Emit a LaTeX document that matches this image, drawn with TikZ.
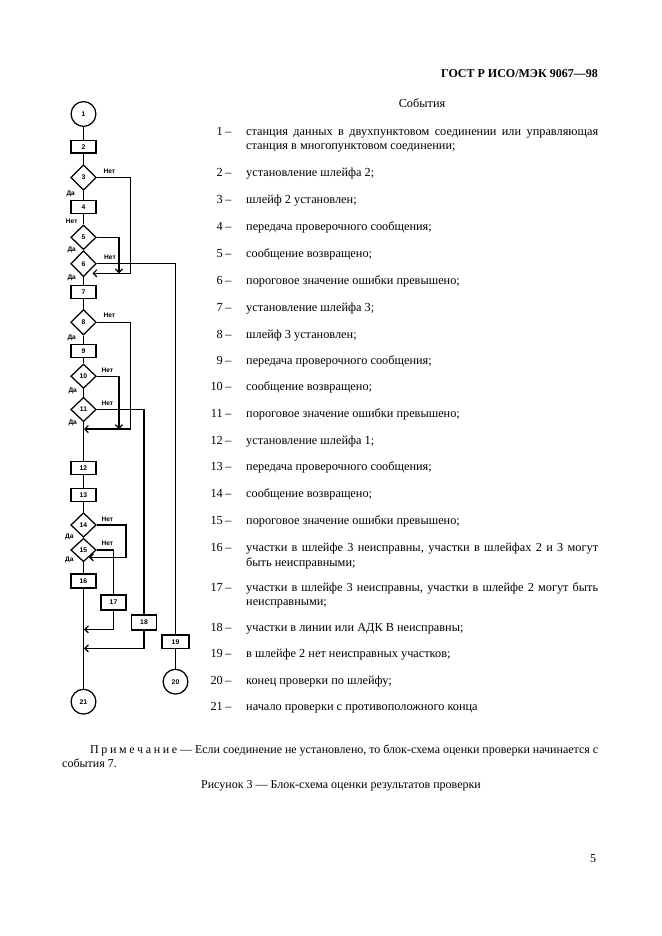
\documentclass[tikz,border=0pt]{standalone}
\usepackage{fontspec}
\setmainfont{Liberation Serif}
\newfontfamily\fc{Liberation Sans}
\usetikzlibrary{shapes.geometric,arrows.meta}
\begin{document}
\begin{tikzpicture}[x=1pt,y=-1pt,
  flow/.style={line width=1.25pt},
  arr/.style={flow,-{Straight Barb[length=3.5pt,width=7pt,line width=1.2pt]}},
  box/.style={draw,line width=1.25pt,minimum width=25pt,minimum height=12.5pt,inner sep=0pt,font=\fc\bfseries\fontsize{6.8}{6.8}\selectfont},
  dec/.style={draw,diamond,line width=1.25pt,minimum width=25.4pt,minimum height=25pt,inner sep=0pt,font=\fc\bfseries\fontsize{6.8}{6.8}\selectfont},
  circ/.style={draw,circle,line width=1.25pt,minimum size=24.8pt,inner sep=0pt,font=\fc\bfseries\fontsize{6.8}{6.8}\selectfont},
  lbl/.style={inner sep=0pt,font=\fc\bfseries\fontsize{6.6}{6.6}\selectfont},
  num/.style={anchor=base east,inner sep=0pt,font=\fontsize{12.3}{14}\selectfont},
  dsh/.style={anchor=base,inner sep=0pt,font=\fontsize{12.3}{14}\selectfont},
  txt/.style={anchor=base west,inner sep=0pt,font=\fontsize{12.3}{14}\selectfont},
]
\useasboundingbox[fill=white] (0,0) rectangle (661,936);

% ---------- flowchart nodes ----------
\node[circ] (n1) at (83.5,114) {1};
\node[box] (n2) at (83.5,146.7) {2};
\node[dec,minimum height=25.6pt] (n3) at (83.5,177.5) {3};
\node[box] (n4) at (83.5,207) {4};
\node[dec,minimum height=24.6pt] (n5) at (83.5,237.3) {5};
\node[dec,minimum height=26pt] (n6) at (83.5,263.7) {6};
\node[box] (n7) at (83.5,292) {7};
\node[dec,minimum height=25.6pt] (n8) at (83.5,322.3) {8};
\node[box,minimum height=13pt] (n9) at (83.5,351) {9};
\node[dec,minimum height=24.4pt] (n10) at (83.5,376.2) {10};
\node[dec,minimum height=24.4pt] (n11) at (83.5,409.5) {11};
\node[box,minimum height=13pt] (n12) at (83.5,468.3) {12};
\node[box,minimum height=13pt] (n13) at (83.5,495) {13};
\node[dec,minimum height=24.6pt] (n14) at (83.5,525) {14};
\node[dec,minimum height=23.4pt] (n15) at (83.5,550) {15};
\node[box,minimum height=14pt] (n16) at (83.5,581) {16};
\node[box,minimum height=15pt] (n17) at (113.5,602.5) {17};
\node[box,minimum height=15pt] (n18) at (144,622.5) {18};
\node[box,minimum width=27pt,minimum height=13.5pt] (n19) at (175.5,641.7) {19};
\node[circ] (n20) at (175.5,681.7) {20};
\node[circ] (n21) at (83.5,701.7) {21};

% ---------- main flow ----------
\draw[flow] (n1) -- (n2);
\draw[flow] (n2) -- (n3);
\draw[flow] (n3) -- (n4);
\draw[flow] (n4) -- (n5);
\draw[flow] (n6) -- (n7);
\draw[flow] (n7) -- (n8);
\draw[flow] (n8) -- (n9);
\draw[flow] (n9) -- (n10);
\draw[flow] (n10) -- (n11);
\draw[flow] (n11) -- (n12);
\draw[flow] (n12) -- (n13);
\draw[flow] (n13) -- (n14);
\draw[flow] (n15) -- (n16);
\draw[flow] (n16) -- (n21);
\draw[flow] (n19) -- (n20);

% ---------- branches ----------
\coordinate (c3) at (130.7,273.3);
\coordinate (j6) at (92.5,273.3);
\coordinate (c5) at (119,273.3);
\draw[arr] (n3.east) -| (c3) -- (j6);
\draw[arr] (n5.east) -| (c5);
\draw[flow] (n6.east) -| (n19.north);

\coordinate (c8) at (130.7,429);
\coordinate (j11) at (84,429);
\coordinate (c10) at (119,429);
\draw[arr] (n8.east) -| (c8) -- (j11);
\draw[arr] (n10.east) -| (c10);
\draw[flow] (n11.east) -| (n18.north);

\coordinate (c14) at (126,557.3);
\coordinate (j15) at (89,557.3);
\draw[arr] (n14.east) -| (c14) -- (j15);
\draw[flow] (n15.east) -| (n17.north);

\coordinate (j17) at (84,629.3);
\coordinate (j18) at (84,648.3);
\draw[arr] (n17.south) |- (j17);
\draw[arr] (n18.south) |- (j18);

% ---------- branch labels ----------
\node[lbl] (l3n) at (109.3,171.7) {Нет};
\node[lbl] (l3d) at (70.7,194.3) {Да};
\node[lbl] (l5n) at (71.7,221) {Нет};
\node[lbl] (l5d) at (71.7,250) {Да};
\node[lbl] (l6n) at (110,257.7) {Нет};
\node[lbl] (l6d) at (71.7,278.3) {Да};
\node[lbl] (l8n) at (109.3,315.7) {Нет};
\node[lbl] (l8d) at (71.7,337.7) {Да};
\node[lbl] (l10n) at (107.3,370.7) {Нет};
\node[lbl] (l10d) at (72.7,390.7) {Да};
\node[lbl] (l11n) at (107.3,403.3) {Нет};
\node[lbl] (l11d) at (72.7,423.3) {Да};
\node[lbl] (l14n) at (107.3,519.3) {Нет};
\node[lbl] (l14d) at (69.3,536.7) {Да};
\node[lbl] (l15n) at (107.3,543.3) {Нет};
\node[lbl] (l15d) at (69.3,560) {Да};

% ---------- header ----------
\node[anchor=base east,inner sep=0pt,font=\bfseries\fontsize{12}{14}\selectfont] (title) at (598,78) {ГОСТ Р ИСО/МЭК 9067—98};
\node[anchor=base,inner sep=0pt,font=\fontsize{12.3}{14}\selectfont] (ev) at (422,108) {События};

% ---------- list ----------
\foreach \n/\y in {1/136,2/176,3/203,4/230,5/257,6/284,7/311,8/338,9/364,10/390,11/417,12/444,13/470,14/497,15/524,16/551,17/591,18/631,19/657,20/684,21/710}{
  \node[num] (k\n) at (223,\y) {\n};
  \node[dsh] (d\n) at (228.5,\y) {–};
}
\node[txt] (t1a) at (246,136) {\makebox[352pt][s]{станция данных в двухпунктовом соединении или управляющая}};
\node[txt] (t1b) at (246,150) {станция в многопунктовом соединении;};
\node[txt] (t2) at (246,176) {установление шлейфа 2;};
\node[txt] (t3) at (246,203) {шлейф 2 установлен;};
\node[txt] (t4) at (246,230) {передача проверочного сообщения;};
\node[txt] (t5) at (246,257) {сообщение возвращено;};
\node[txt] (t6) at (246,284) {пороговое значение ошибки превышено;};
\node[txt] (t7) at (246,311) {установление шлейфа 3;};
\node[txt] (t8) at (246,338) {шлейф 3 установлен;};
\node[txt] (t9) at (246,364) {передача проверочного сообщения;};
\node[txt] (t10) at (246,390) {сообщение возвращено;};
\node[txt] (t11) at (246,417) {пороговое значение ошибки превышено;};
\node[txt] (t12) at (246,444) {установление шлейфа 1;};
\node[txt] (t13) at (246,470) {передача проверочного сообщения;};
\node[txt] (t14) at (246,497) {сообщение возвращено;};
\node[txt] (t15) at (246,524) {пороговое значение ошибки превышено;};
\node[txt] (t16a) at (246,551) {\makebox[352pt][s]{участки в шлейфе 3 неисправны, участки в шлейфах 2 и 3 могут}};
\node[txt] (t16b) at (246,566) {быть неисправными;};
\node[txt] (t17a) at (246,591) {\makebox[352pt][s]{участки в шлейфе 3 неисправны, участки в шлейфе 2 могут быть}};
\node[txt] (t17b) at (246,605) {неисправными;};
\node[txt] (t18) at (246,631) {участки в линии или АДК В неисправны;};
\node[txt] (t19) at (246,657) {в шлейфе 2 нет неисправных участков;};
\node[txt] (t20) at (246,684) {конец проверки по шлейфу;};
\node[txt] (t21) at (246,710) {начало проверки с противоположного конца};

% ---------- note, caption, page ----------
\node[txt,font=\fontsize{12}{14}\selectfont] (note1) at (90,753) {\makebox[508pt][s]{П\hspace{2.6pt}р\hspace{2.6pt}и\hspace{2.6pt}м\hspace{2.6pt}е\hspace{2.6pt}ч\hspace{2.6pt}а\hspace{2.6pt}н\hspace{2.6pt}и\hspace{2.6pt}е — Если соединение не установлено, то блок-схема оценки проверки начинается с}};
\node[txt,font=\fontsize{12}{14}\selectfont] (note2) at (62,767) {события 7.};
\node[anchor=base,inner sep=0pt,font=\fontsize{12}{14}\selectfont] (cap) at (341,788) {Рисунок 3 — Блок-схема оценки результатов проверки};
\node[anchor=base,inner sep=0pt,font=\fontsize{12}{14}\selectfont] (page) at (593,862) {5};
\end{tikzpicture}
\end{document}
